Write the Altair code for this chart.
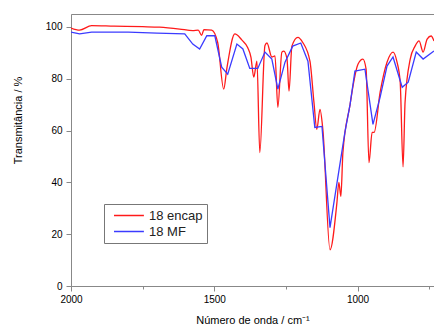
import altair as alt
import pandas as pd

# 18 encap (red)
red_wn = [2000, 1970, 1928, 1850, 1750, 1691, 1621, 1575, 1556, 1544, 1536, 1509,
          1488, 1467, 1456, 1428, 1421, 1404, 1383, 1372, 1362, 1351, 1341, 1323,
          1316, 1299, 1288, 1278, 1264, 1257, 1246, 1239, 1229, 1208, 1191, 1166,
          1152, 1142, 1131, 1121, 1096, 1072, 1065, 1058, 1051, 1026, 1016, 998,
          981, 970, 960, 949, 942, 921, 897, 876, 862, 851, 841, 834, 816, 799,
          785, 771, 757, 743, 733]
red_t = [99.6, 98.8, 100.5, 100.3, 100.1, 99.9, 99.2, 98.6, 98.8, 96.8, 99.0, 98.8,
         94.0, 76.0, 84.0, 97.3, 97.0, 95.0, 92.0, 88.4, 80.6, 86.8, 51.5, 92.8,
         93.8, 88.4, 88.8, 69.0, 90.3, 90.7, 87.6, 75.2, 92.6, 96.0, 94.0, 86.8,
         70.9, 60.5, 68.2, 60.5, 14.0, 32.0, 40.0, 34.6, 51.5, 70.0, 77.0, 85.7,
         87.6, 83.7, 47.6, 59.3, 59.3, 74.8, 86.4, 90.3, 86.4, 78.7, 46.0, 70.9,
         87.6, 92.6, 94.6, 90.3, 95.3, 96.5, 94.6]

# 18 MF (blue)
blue_wn = [2000, 1970, 1928, 1800, 1700, 1603, 1575, 1551, 1526, 1498, 1474, 1453,
           1421, 1400, 1376, 1348, 1323, 1299, 1278, 1253, 1226, 1198, 1173, 1149,
           1124, 1096, 1044, 1026, 1009, 974, 946, 921, 897, 876, 844, 823, 795,
           771, 733]
blue_t = [98.0, 97.3, 98.0, 98.0, 97.6, 97.3, 93.4, 91.5, 96.6, 96.6, 84.5, 81.8,
          93.4, 91.5, 84.0, 84.0, 90.3, 87.6, 76.0, 86.4, 92.6, 93.8, 86.8, 61.2,
          61.6, 22.5, 59.3, 70.0, 83.0, 83.7, 62.4, 72.9, 84.9, 88.4, 76.7, 78.7,
          90.3, 87.6, 90.7]

series_names = ["18 encap", "18 MF"]
series_colors = ["#ff1a1a", "#3b3bff"]
x_ticks = [2000, 1750, 1500, 1250, 1000, 750]
y_ticks = [0, 10, 20, 30, 40, 50, 60, 70, 80, 90, 100]

red_df = pd.DataFrame({"wn": red_wn, "T": red_t, "s": series_names[0]})
blue_df = pd.DataFrame({"wn": blue_wn, "T": blue_t, "s": series_names[1]})

FONT = "Liberation Sans"
AX = "#555555"
TXT = "#222222"

xscale = alt.Scale(domain=[2000, 733], nice=False, zero=False)
yscale = alt.Scale(domain=[0, 105], nice=False)

color = alt.Color(
    "s:N",
    scale=alt.Scale(domain=series_names, range=series_colors),
    legend=alt.Legend(
        title=None, orient="none", legendX=33, legendY=190,
        symbolType="M-1,0L3.6,0", symbolSize=169, symbolStrokeWidth=1.5,
        symbolOffset=5, labelOffset=21,
        labelFontSize=13, labelFont=FONT, labelColor=TXT,
        strokeColor="#777777", padding=4, rowPadding=1,
        fillColor="white",
    ),
)

x_enc = alt.X(
    "wn:Q", scale=xscale,
    axis=alt.Axis(
        values=x_ticks, format="d",
        labelExpr="datum.value % 500 === 0 ? datum.label : ''",
        tickSize={"condition": {"test": "datum.value % 500 === 0", "value": 5}, "value": 3},
        title="Número de onda / cm⁻¹", titlePadding=10, titleFontWeight="normal",
        labelFlush=False, labelOverlap=False, labelPadding=3,
        grid=False,
    ),
)
x_plain = alt.X("wn:Q", scale=xscale, axis=None)
y_enc = alt.Y(
    "T:Q", scale=yscale,
    axis=alt.Axis(
        values=y_ticks, format="d",
        labelExpr="datum.value % 20 === 0 ? datum.label : ''",
        tickSize={"condition": {"test": "datum.value % 20 === 0", "value": 5}, "value": 3},
        title="Transmitância / %", titleX=-53, titleY=106,
        titleBaseline="middle", titleAlign="center", titleFontWeight="normal",
        labelPadding=4, grid=False,
    ),
)

red = alt.Chart(red_df).mark_line(
    interpolate="monotone", strokeWidth=1.3, clip=True
).encode(x=x_enc, y=y_enc, color=color, order=alt.Order("wn:Q", sort="descending"))

blue = alt.Chart(blue_df).mark_line(
    strokeWidth=1.3, clip=True
).encode(x=x_plain, y=y_enc, color=color, order=alt.Order("wn:Q", sort="descending"))

top = alt.Chart(blue_df).mark_line(opacity=0).encode(
    x=alt.X("wn:Q", scale=xscale,
            axis=alt.Axis(orient="top", labels=False, ticks=False, title=None,
                          domain=True, grid=False)),
    y=alt.Y("T:Q", scale=yscale),
)

chart = alt.layer(top, red, blue).resolve_axis(x="independent").properties(
    width=363, height=272,
    autosize=alt.AutoSizeParams(type="none"),
    padding={"left": 71, "top": 14, "right": 0, "bottom": 45},
).configure_view(stroke=None).configure_axis(
    domainColor=AX, domainWidth=1.5, tickColor=AX, tickWidth=1.2,
    labelFont=FONT, labelFontSize=11, labelColor=TXT,
    titleFont=FONT, titleFontSize=12.5, titleFontWeight="normal", titleColor=TXT,
).configure(background="white")

chart.save("out.html", embed_options={"renderer": "svg", "actions": False})
